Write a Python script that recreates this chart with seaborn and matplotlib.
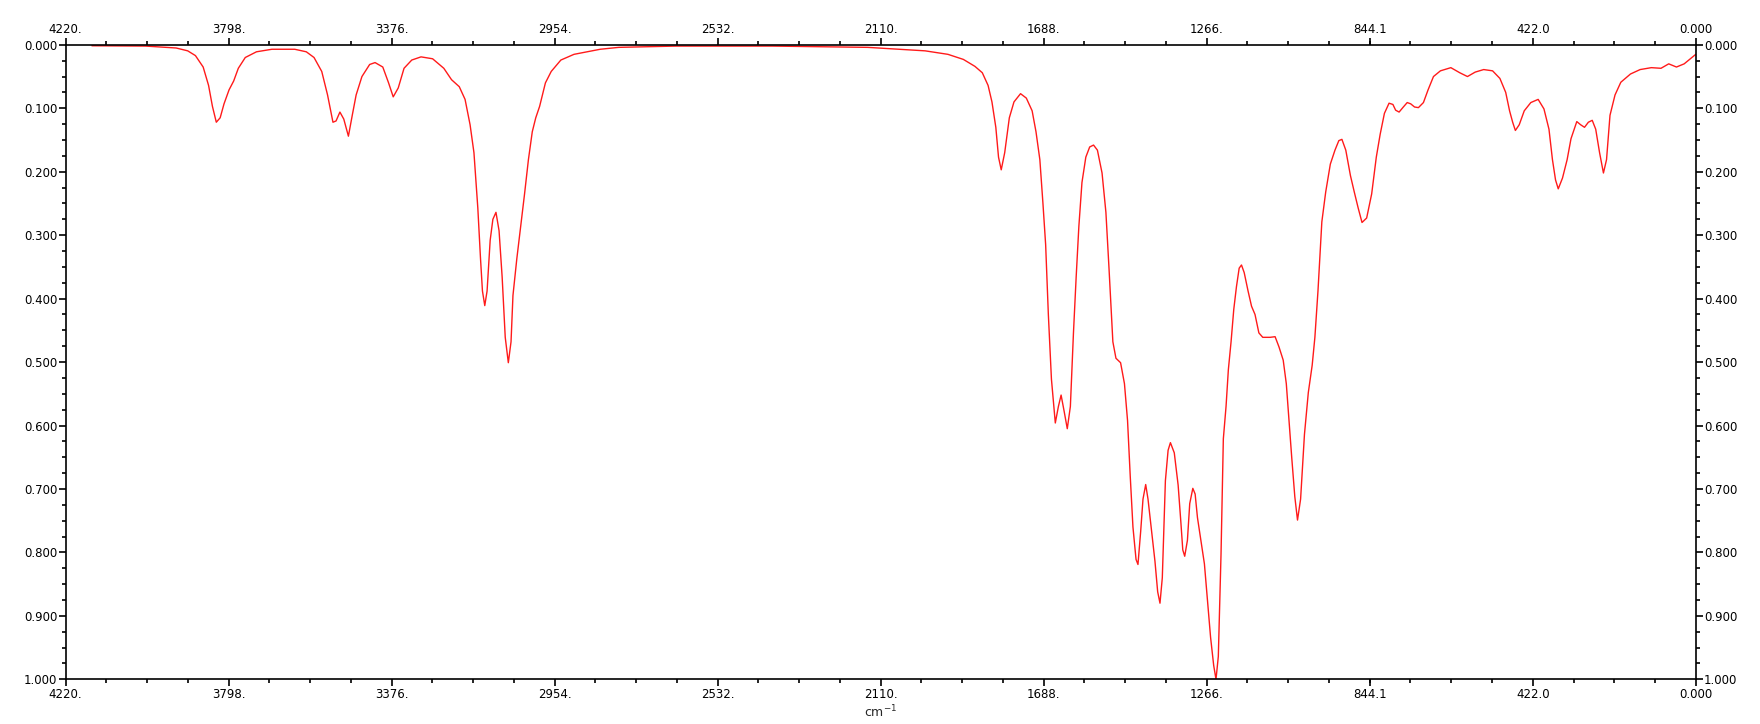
import numpy as np
import pandas as pd
import seaborn as sns
import matplotlib
matplotlib.use("Agg")
import matplotlib.pyplot as plt
from matplotlib.ticker import FixedLocator, MultipleLocator

# spectrum (wavenumber, absorbance)
wavenumber = [
    4152, 4013, 3934, 3904, 3884, 3864, 3850, 3840, 3830, 3820, 3810, 3797,
    3785, 3773, 3755, 3726, 3686, 3627, 3597, 3577, 3557, 3542, 3528, 3520,
    3510, 3500, 3488, 3478, 3468, 3453, 3433, 3419, 3399, 3384, 3372, 3359,
    3344, 3324, 3300, 3270, 3241, 3221, 3201, 3186, 3173, 3163, 3153, 3146,
    3141, 3135, 3129, 3121, 3114, 3106, 3098, 3090, 3082, 3074, 3067, 3062,
    3052, 3042, 3032, 3022, 3012, 3003, 2993, 2978, 2963, 2938, 2904, 2836,
    2788, 2639, 2391, 2144, 1995, 1936, 1896, 1866, 1847, 1832, 1822, 1812,
    1805, 1798, 1789, 1777, 1765, 1748, 1733, 1718, 1708, 1698, 1690, 1683,
    1676, 1668, 1658, 1650, 1643, 1635, 1627, 1619, 1611, 1604, 1597, 1589,
    1579, 1569, 1559, 1549, 1537, 1527, 1519, 1509, 1501, 1489, 1479, 1471,
    1464, 1457, 1449, 1444, 1437, 1431, 1424, 1418, 1410, 1400, 1393, 1387,
    1381, 1373, 1366, 1360, 1350, 1340, 1333, 1328, 1323, 1316, 1310, 1302,
    1296, 1290, 1282, 1272, 1264, 1256, 1248, 1242, 1236, 1229, 1223, 1216,
    1210, 1203, 1196, 1189, 1182, 1176, 1169, 1159, 1150, 1141, 1131, 1121,
    1102, 1089, 1079, 1068, 1060, 1053, 1046, 1038, 1031, 1023, 1013, 1003,
    993, 986, 978, 968, 958, 946, 934, 924, 916, 906, 894, 884,
    874, 864, 852, 839, 827, 817, 806, 794, 784, 777, 768, 757,
    747, 738, 728, 718, 705, 693, 679, 661, 634, 611, 591, 571,
    549, 526, 507, 492, 482, 474, 467, 457, 444, 427, 408, 393,
    380, 371, 363, 356, 345, 333, 323, 308, 298, 288, 278, 268,
    259, 249, 239, 231, 222, 209, 194, 169, 144, 115, 90, 70,
    50, 30, 0,
]
absorbance = [
    0.0015, 0.002, 0.005, 0.0095, 0.017, 0.035, 0.064, 0.097, 0.122, 0.115, 0.093, 0.071,
    0.057, 0.037, 0.020, 0.011, 0.007, 0.007, 0.011, 0.020, 0.042, 0.079, 0.122, 0.120,
    0.106, 0.117, 0.144, 0.111, 0.079, 0.050, 0.031, 0.028, 0.035, 0.060, 0.082, 0.068,
    0.037, 0.024, 0.019, 0.022, 0.037, 0.055, 0.066, 0.086, 0.126, 0.170, 0.257, 0.337,
    0.388, 0.411, 0.388, 0.308, 0.275, 0.264, 0.293, 0.366, 0.461, 0.501, 0.468, 0.395,
    0.337, 0.286, 0.235, 0.181, 0.137, 0.115, 0.097, 0.060, 0.042, 0.024, 0.015, 0.007,
    0.004, 0.002, 0.002, 0.004, 0.0095, 0.015, 0.023, 0.034, 0.044, 0.064, 0.090, 0.130,
    0.177, 0.197, 0.170, 0.115, 0.090, 0.077, 0.084, 0.104, 0.137, 0.181, 0.250, 0.315,
    0.425, 0.527, 0.596, 0.570, 0.552, 0.578, 0.605, 0.570, 0.454, 0.366, 0.286, 0.217,
    0.177, 0.161, 0.158, 0.166, 0.202, 0.264, 0.352, 0.468, 0.494, 0.501, 0.534, 0.592,
    0.680, 0.760, 0.811, 0.819, 0.767, 0.716, 0.693, 0.716, 0.760, 0.814, 0.862, 0.880,
    0.840, 0.687, 0.639, 0.627, 0.643, 0.694, 0.752, 0.796, 0.806, 0.781, 0.723, 0.699,
    0.708, 0.745, 0.778, 0.818, 0.876, 0.934, 0.978, 1.000, 0.964, 0.803, 0.621, 0.570,
    0.512, 0.468, 0.417, 0.381, 0.352, 0.347, 0.359, 0.388, 0.412, 0.425, 0.454, 0.461,
    0.461, 0.460, 0.476, 0.497, 0.534, 0.592, 0.650, 0.712, 0.749, 0.716, 0.614, 0.548,
    0.505, 0.461, 0.388, 0.279, 0.232, 0.188, 0.166, 0.151, 0.149, 0.166, 0.206, 0.232,
    0.257, 0.280, 0.273, 0.235, 0.177, 0.141, 0.108, 0.092, 0.094, 0.103, 0.106, 0.098,
    0.091, 0.093, 0.098, 0.099, 0.091, 0.071, 0.050, 0.041, 0.036, 0.044, 0.050, 0.043,
    0.039, 0.041, 0.053, 0.075, 0.104, 0.122, 0.135, 0.126, 0.104, 0.091, 0.086, 0.101,
    0.133, 0.181, 0.213, 0.227, 0.210, 0.181, 0.148, 0.121, 0.126, 0.130, 0.122, 0.119,
    0.133, 0.170, 0.202, 0.181, 0.111, 0.079, 0.059, 0.046, 0.039, 0.036, 0.037, 0.030,
    0.035, 0.030, 0.015,
]

x_ticks = [4220, 3798, 3376, 2954, 2532, 2110, 1688, 1266, 844.1, 422.0, 0]
x_labels = ["4220.", "3798.", "3376.", "2954.", "2532.", "2110.", "1688.",
            "1266.", "844.1", "422.0", "0.000"]
y_ticks = [0.0, 0.1, 0.2, 0.3, 0.4, 0.5, 0.6, 0.7, 0.8, 0.9, 1.0]
y_labels = ["%.3f" % v for v in y_ticks]

df = pd.DataFrame({"wn": wavenumber, "abs": absorbance})

sns.set_style("ticks")
plt.rcParams["font.family"] = ["DejaVu Sans"]

fig = plt.figure(figsize=(17.6, 7.24), dpi=100)
ax = fig.add_axes([0.0373, 0.0617, 0.9262, 0.8764])

sns.lineplot(data=df, x="wn", y="abs", color="#ff1a1a", linewidth=1.0, ax=ax)

ax.set_xlim(4220, 0)
ax.set_ylim(1.0, 0.0)

ax.xaxis.set_major_locator(FixedLocator(x_ticks))
ax.set_xticklabels(x_labels)
ax.xaxis.set_minor_locator(MultipleLocator(105.5))
ax.yaxis.set_major_locator(FixedLocator(y_ticks))
ax.set_yticklabels(y_labels)
ax.yaxis.set_minor_locator(MultipleLocator(0.025))

ax.tick_params(which="both", direction="out", top=True, right=True,
               labeltop=True, labelright=True, labelsize=8.5, pad=1,
               color="black", labelcolor="black")
ax.tick_params(which="major", length=5, width=1.2)
ax.tick_params(which="minor", length=3, width=1.2)

for s in ax.spines.values():
    s.set_visible(True)
    s.set_linewidth(1.2)
    s.set_color("black")

ax.set_xlabel("cm$^{-1}$", fontsize=9, labelpad=2)
ax.set_ylabel("")

fig.savefig("out.png", dpi=100)
